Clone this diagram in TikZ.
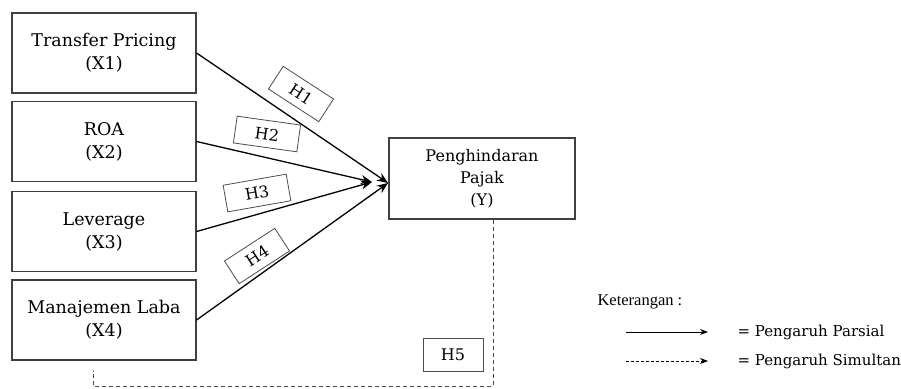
\documentclass[tikz,border=0pt]{standalone}
\usepackage{fontspec}
\setmainfont{DejaVu Serif}
\newfontfamily\legfont{Liberation Serif}
\usetikzlibrary{arrows.meta}
\begin{document}
\begin{tikzpicture}[x=1pt,y=-1pt,
  varbox/.style={draw=black!75,line width=1.1pt,minimum width=184pt,minimum height=80pt,align=center,inner sep=0pt,font=\fontsize{17.5}{23}\selectfont},
  hbox/.style={draw=black!70,line width=0.8pt,minimum width=60pt,minimum height=27pt,inner sep=0pt,font=\fontsize{16}{18}\selectfont},
  arr/.style={line width=1.3pt,-{Stealth[length=11pt,width=9pt]}},
  dsh/.style={line width=1pt,dash pattern=on 4pt off 3pt,black!70}]
\useasboundingbox (0,0) rectangle (901,388);
\node[varbox] (x1) at (104,53) {Transfer Pricing\\(X1)};
\node[varbox] (x2) at (104,141.5) {ROA\\(X2)};
\node[varbox] (x3) at (104,231.5) {Leverage\\(X3)};
\node[varbox] (x4) at (104,320) {Manajemen Laba\\(X4)};
\node[varbox,minimum width=186pt,minimum height=81pt,font=\fontsize{16}{22}\selectfont] (y) at (482,178.5) {Penghindaran\\Pajak\\(Y)};
\coordinate (tipa) at (388,183);
\coordinate (tipb) at (372,182);
\draw[arr] (x1.east) -- (tipa);
\draw[arr] (x2.east) -- (tipb);
\draw[arr] (x3.east) -- (tipb);
\draw[arr] (x4.east) -- (tipa);
\node[hbox,rotate=-33] (h1) at (301,94) {H1};
\node[hbox,rotate=-8,minimum width=64pt] (h2) at (267,134) {H2};
\node[hbox,rotate=10,minimum width=64pt] (h3) at (257,193) {H3};
\node[hbox,rotate=33] (h4) at (257,256) {H4};
\node[hbox,minimum width=60pt,minimum height=33pt] (h5) at (453,354.5) {H5};
\coordinate (dend) at (93,371);
\draw[dsh] (y.south -| 493,0) -- (493,386) -- (93,386) -- (dend);
\node[anchor=west,font=\legfont\fontsize{16.5}{18}\selectfont] (ket) at (594,302) {Keterangan :};
\coordinate (la1) at (626,332);
\coordinate (la2) at (708,332);
\coordinate (lb1) at (626,361);
\coordinate (lb2) at (708,361);
\draw[line width=1pt,-{Stealth[length=8pt,width=6pt]}] (la1) -- (la2);
\draw[line width=0.9pt,dash pattern=on 3pt off 2pt,-{Stealth[length=8pt,width=6pt]}] (lb1) -- (lb2);
\node[anchor=west,font=\fontsize{15}{18}\selectfont] (lp) at (734,332) {= Pengaruh Parsial};
\node[anchor=west,font=\fontsize{15}{18}\selectfont] (ls) at (734,361) {= Pengaruh Simultan};
\end{tikzpicture}
\end{document}
